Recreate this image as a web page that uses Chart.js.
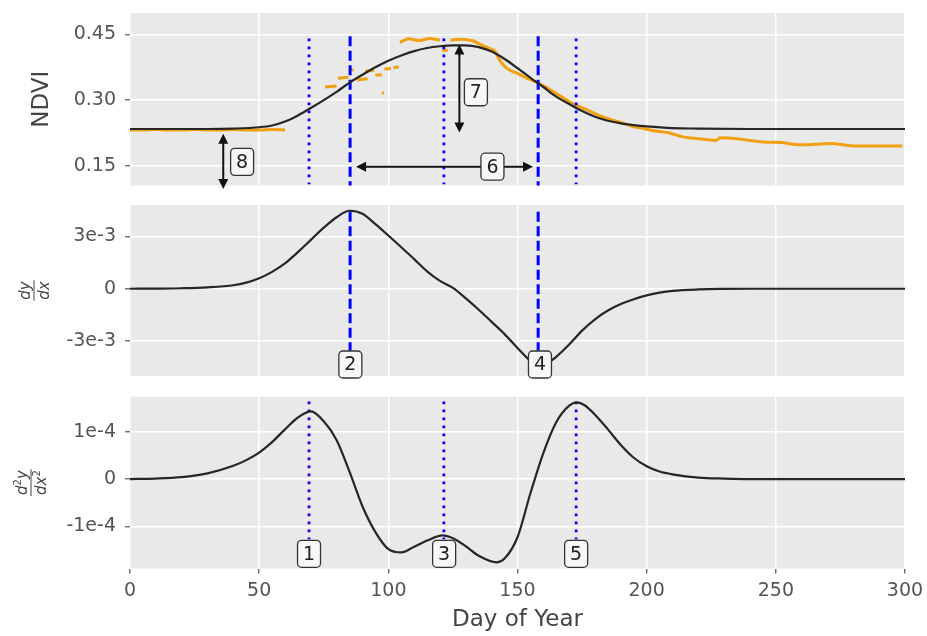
<!DOCTYPE html>
<html>
<head>
<meta charset="utf-8">
<script src="https://cdn.jsdelivr.net/npm/chart.js@4.4.1/dist/chart.umd.min.js"></script>
<style>
  html, body { margin: 0; padding: 0; background: #fff; }
  #wrap { position: relative; width: 927px; height: 636px; }
  canvas { position: absolute; left: 0; }
</style>
</head>
<body>
<div id="wrap">
  <canvas id="c1" width="927" height="196" style="top:0px"></canvas>
  <canvas id="c2" width="927" height="190" style="top:196px"></canvas>
  <canvas id="c3" width="927" height="250" style="top:386px"></canvas>
</div>
<script>
// ---- data ----
const xTicks = [0, 50, 100, 150, 200, 250, 300];

const ndviTicks = [0.15, 0.30, 0.45];
const ndviTickLabels = ['0.15', '0.30', '0.45'];
const slopeTicks = [-3e-3, 0, 3e-3];
const slopeTickLabels = ['-3e-3', '0', '3e-3'];
const curvTicks = [-1e-4, 0, 1e-4];
const curvTickLabels = ['-1e-4', '0', '1e-4'];

// fitted NDVI curve
const fitDays = [0, 10, 20, 30, 40, 50, 55, 60, 65, 70, 75, 80, 85, 90, 95, 100, 105, 110, 115, 120,
  125, 130, 135, 140, 145, 150, 155, 160, 165, 170, 175, 180, 185, 190, 195, 200, 210, 220, 240, 260, 280, 300];
const ndviFit = [0.234, 0.234, 0.234, 0.234, 0.235, 0.238, 0.242, 0.251, 0.265, 0.282, 0.300, 0.319, 0.340, 0.358, 0.375, 0.390, 0.402, 0.412, 0.419, 0.423,
  0.425, 0.425, 0.421, 0.411, 0.394, 0.373, 0.351, 0.330, 0.308, 0.291, 0.275, 0.262, 0.253, 0.247, 0.243, 0.240, 0.236, 0.235, 0.234, 0.234, 0.234, 0.234];

// raw NDVI observations (null = gap)
const rawDays = [0, 5, 10, 15, 20, 25, 30, 35, 40, 45, 50, 55, 60, 61,
  75.5, 80, 80.2, 80.5, 84.5, 84.7, 85, 86.5, 86.7, 88, 92, 92.1, 91, 94.5, 94.6,
  95, 97.5, 97.6, 97.5, 98.3, 98.4, 98.5, 101, 101.2, 102, 104, 104.2,
  104.5, 108, 112, 116, 120, 120.3, 120.8, 123, 123.3,
  124, 128, 133, 136, 139.5, 141.5, 143, 146, 150, 153, 157, 161, 165, 168, 171, 175, 179, 182, 186, 190,
  194, 198, 204, 208, 214, 220, 227, 228.4, 235, 240, 246, 252, 259, 265, 272, 276, 280, 290, 299];
const ndviRaw = [0.232, 0.232, 0.233, 0.232, 0.232, 0.233, 0.232, 0.232, 0.233, 0.232, 0.232, 0.233, 0.232, null,
  0.330, 0.332, null, 0.350, 0.352, null, 0.372, 0.368, null, 0.346, 0.349, null, 0.366, 0.368, null,
  0.357, 0.358, null, 0.316, 0.316, null, 0.371, 0.372, null, 0.374, 0.376, null,
  0.432, 0.440, 0.436, 0.441, 0.437, null, 0.414, 0.414, null,
  0.437, 0.439, 0.435, 0.426, 0.417, 0.410, 0.392, 0.372, 0.361, 0.352, 0.342, 0.330, 0.315, 0.304, 0.293, 0.283, 0.272, 0.264, 0.256, 0.249,
  0.241, 0.236, 0.229, 0.226, 0.216, 0.212, 0.208, 0.214, 0.212, 0.208, 0.204, 0.203, 0.198, 0.199, 0.201, 0.198, 0.195, 0.195, 0.195];

// first derivative
const slopeDays = [0, 10, 20, 30, 40, 45, 50, 55, 60, 65, 70, 75, 80, 85, 90, 95, 100,
  105, 110, 115, 120, 125, 130, 135, 140, 145, 150, 155,
  158, 160, 165, 170, 175, 180, 185, 190, 195, 200,
  205, 210, 220, 230, 240, 260, 280, 300];
const slope = [0, 0.00001, 0.00003, 0.00008, 0.0002, 0.00035, 0.0006, 0.00097, 0.00145, 0.0021, 0.0028, 0.0035, 0.0041, 0.00447, 0.0043, 0.0037, 0.00305,
  0.00238, 0.0017, 0.001, 0.00045, 0.00005, -0.00055, -0.0012, -0.0019, -0.0026, -0.0034, -0.00415,
  -0.00448, -0.0044, -0.0039, -0.0032, -0.0024, -0.00175, -0.00125, -0.00088, -0.0006, -0.00038,
  -0.00022, -0.00012, -0.00004, -0.00001, 0, 0, 0, 0];

// second derivative
const curvDays = [0, 10, 20, 30, 40, 45, 50, 55, 60, 65, 70, 75, 80, 85, 90,
  95, 100, 105, 110, 115, 121, 125, 130, 135, 142,
  145, 150, 155, 160, 165, 170, 173, 176, 180, 185,
  190, 195, 200, 205, 210, 220, 230, 240, 260, 280, 300];
const curv = [0, 0.01e-4, 0.04e-4, 0.12e-4, 0.28e-4, 0.4e-4, 0.56e-4, 0.78e-4, 1.05e-4, 1.3e-4, 1.43e-4, 1.22e-4, 0.82e-4, 0.15e-4, -0.58e-4,
  -1.12e-4, -1.48e-4, -1.55e-4, -1.43e-4, -1.3e-4, -1.19e-4, -1.25e-4, -1.42e-4, -1.62e-4, -1.76e-4,
  -1.68e-4, -1.23e-4, -0.3e-4, 0.55e-4, 1.2e-4, 1.55e-4, 1.62e-4, 1.56e-4, 1.36e-4, 1.05e-4,
  0.72e-4, 0.45e-4, 0.27e-4, 0.16e-4, 0.1e-4, 0.03e-4, 0.01e-4, 0, 0, 0, 0];

// phenology markers (day of year)
const dottedDays = [69.3, 121.5, 172.7];
const dashedDays = [85.2, 158];

// annotation labels: [text, day, value]
const ndviLabels = [['8', 43.4, 0.159], ['7', 133.9, 0.318], ['6', 140.3, 0.148]];
const slopeLabels = [['2', 85.3, -4.34e-3], ['4', 158.7, -4.34e-3]];
const curvLabels = [['1', 69.3, -1.58e-4], ['3', 121.6, -1.58e-4], ['5', 172.7, -1.58e-4]];

// arrows: [x1, y1, x2, y2] in data units
const ndviArrows = [
  [36.1, 0.223, 36.1, 0.097],
  [127.5, 0.427, 127.5, 0.226],
  [87.5, 0.148, 156, 0.148]
];

const FONT = "'DejaVu Sans', sans-serif";
const BLUE = '#0000ff';

function pts(xs, ys) {
  return xs.map((x, i) => ({ x: x, y: ys[i] }));
}

function vline(day, top, bottom, dotted) {
  return {
    data: [{ x: day, y: top }, { x: day, y: bottom }],
    borderColor: BLUE,
    borderWidth: dotted ? 2.8 : 3,
    borderDash: dotted ? [2.8, 5.2] : [10, 4.5],
    pointRadius: 0,
    order: 2
  };
}

function curveSet(xs, ys, color, width, order) {
  return {
    data: pts(xs, ys),
    borderColor: color,
    borderWidth: width,
    pointRadius: 0,
    cubicInterpolationMode: 'monotone',
    spanGaps: false,
    order: order
  };
}

function drawBox(ctx, x, y, text) {
  const w = 23, h = 27;
  ctx.save();
  ctx.beginPath();
  ctx.roundRect(x - w / 2, y - h / 2, w, h, 4);
  ctx.fillStyle = '#f7f7f7';
  ctx.fill();
  ctx.lineWidth = 1.3;
  ctx.strokeStyle = '#333';
  ctx.stroke();
  ctx.fillStyle = '#222';
  ctx.font = '19px ' + FONT;
  ctx.textAlign = 'center';
  ctx.textBaseline = 'middle';
  ctx.fillText(text, x, y + 1);
  ctx.restore();
}

function drawArrow(ctx, x1, y1, x2, y2) {
  const hl = 10, hw = 5;
  const ang = Math.atan2(y2 - y1, x2 - x1);
  const ux = Math.cos(ang), uy = Math.sin(ang);
  ctx.save();
  ctx.strokeStyle = '#111';
  ctx.fillStyle = '#111';
  ctx.lineWidth = 2;
  ctx.beginPath();
  ctx.moveTo(x1 + ux * hl * 0.8, y1 + uy * hl * 0.8);
  ctx.lineTo(x2 - ux * hl * 0.8, y2 - uy * hl * 0.8);
  ctx.stroke();
  [[x2, y2, 1], [x1, y1, -1]].forEach(([tx, ty, s]) => {
    ctx.beginPath();
    ctx.moveTo(tx, ty);
    ctx.lineTo(tx - s * ux * hl - uy * hw, ty - s * uy * hl + ux * hw);
    ctx.lineTo(tx - s * ux * hl + uy * hw, ty - s * uy * hl - ux * hw);
    ctx.closePath();
    ctx.fill();
  });
  ctx.restore();
}

// y-axis label: plain text or fraction
function drawYLabel(ctx, area, kind) {
  const cy = (area.top + area.bottom) / 2;
  ctx.save();
  ctx.fillStyle = '#444';
  ctx.strokeStyle = '#444';
  if (kind === 'ndvi') {
    ctx.translate(42, cy);
    ctx.rotate(-Math.PI / 2);
    ctx.font = '23px ' + FONT;
    ctx.textAlign = 'center';
    ctx.textBaseline = 'middle';
    ctx.fillText('NDVI', 0, 0);
  } else {
    const cx = kind === 'slope' ? 35 : 32;
    ctx.translate(cx, cy);
    ctx.rotate(-Math.PI / 2);
    const big = 'italic 15px ' + FONT;
    const small = '10px ' + FONT;
    const sup = kind === 'curv';
    ctx.font = big;
    const wd = ctx.measureText('d').width;
    const wy = ctx.measureText('y').width;
    const wx = ctx.measureText('x').width;
    ctx.font = small;
    const w2 = sup ? ctx.measureText('2').width : 0;
    const numW = wd + w2 + wy;
    const denW = wd + wx + w2;
    const barW = Math.max(numW, denW) + 2;
    ctx.textAlign = 'left';
    ctx.textBaseline = 'alphabetic';
    let x0 = -numW / 2;
    ctx.font = big; ctx.fillText('d', x0, -5);
    if (sup) { ctx.font = small; ctx.fillText('2', x0 + wd, -11); }
    ctx.font = big; ctx.fillText('y', x0 + wd + w2, -5);
    x0 = -denW / 2;
    ctx.fillText('d', x0, 14);
    ctx.fillText('x', x0 + wd, 14);
    if (sup) { ctx.font = small; ctx.fillText('2', x0 + wd + wx, 8); }
    ctx.lineWidth = 1;
    ctx.beginPath();
    ctx.moveTo(-barW / 2, -1);
    ctx.lineTo(barW / 2, -1);
    ctx.stroke();
  }
  ctx.restore();
}

const panelPlugin = {
  id: 'panel',
  beforeDraw(chart) {
    const a = chart.chartArea;
    const ctx = chart.ctx;
    ctx.save();
    ctx.fillStyle = '#e9e9e9';
    ctx.fillRect(a.left, a.top, a.right - a.left, a.bottom - a.top);
    ctx.restore();
  },
  afterDraw(chart) {
    const o = chart.options.plugins.panel;
    const ctx = chart.ctx;
    const xs = chart.scales.x, ys = chart.scales.y;
    (o.arrows || []).forEach(a => {
      drawArrow(ctx, xs.getPixelForValue(a[0]), ys.getPixelForValue(a[1]),
        xs.getPixelForValue(a[2]), ys.getPixelForValue(a[3]));
    });
    (o.labels || []).forEach(l => {
      drawBox(ctx, xs.getPixelForValue(l[1]), ys.getPixelForValue(l[2]), l[0]);
    });
    drawYLabel(ctx, chart.chartArea, o.kind);
  }
};

function noPad(s) {
  s.paddingTop = 0;
  s.paddingBottom = 0;
  s.paddingLeft = 0;
  s.paddingRight = 0;
}

function makePanel(id, cfg) {
  const bottom = cfg.bottom;
  return new Chart(document.getElementById(id), {
    type: 'line',
    data: { datasets: cfg.datasets },
    plugins: [panelPlugin],
    options: {
      responsive: false,
      animation: false,
      clip: false,
      layout: { padding: cfg.padding },
      plugins: {
        legend: { display: false },
        tooltip: { enabled: false },
        panel: { kind: cfg.kind, labels: cfg.labels, arrows: cfg.arrows }
      },
      scales: {
        x: {
          type: 'linear',
          min: 0,
          max: 300,
          afterBuildTicks: s => { s.ticks = xTicks.map(v => ({ value: v })); },
          afterFit: s => { s.height = bottom ? 67.5 : 0; noPad(s); },
          border: { display: false },
          grid: { color: '#ffffff', lineWidth: 1.5, drawTicks: bottom, tickLength: 5, tickColor: '#555', tickWidth: 1.2 },
          ticks: { display: bottom, padding: 6, color: '#555', font: { family: FONT, size: 19 } },
          title: { display: bottom, text: 'Day of Year', color: '#444', font: { family: FONT, size: 23 }, padding: { top: 0, bottom: 2 } }
        },
        y: {
          type: 'linear',
          min: cfg.ymin,
          max: cfg.ymax,
          afterBuildTicks: s => { s.ticks = cfg.ticks.map(v => ({ value: v })); },
          afterFit: s => { s.width = 130; noPad(s); },
          border: { display: false },
          grid: { color: '#ffffff', lineWidth: 1.5, tickLength: 5, tickColor: '#555', tickWidth: 1.2 },
          ticks: {
            padding: 9,
            color: '#555',
            font: { family: FONT, size: 19 },
            callback: v => {
              const i = cfg.ticks.findIndex(t => Math.abs(t - v) < 1e-12);
              return i >= 0 ? cfg.tickLabels[i] : '';
            }
          }
        }
      }
    }
  });
}

makePanel('c1', {
  kind: 'ndvi',
  bottom: false,
  padding: { top: 13, bottom: 10.5, left: 0, right: 22 },
  ymin: 0.105, ymax: 0.499,
  ticks: ndviTicks, tickLabels: ndviTickLabels,
  labels: ndviLabels, arrows: ndviArrows,
  datasets: [
    curveSet(rawDays, ndviRaw, '#f0a010', 3, 3),
    curveSet(fitDays, ndviFit, '#262626', 2.2, 1),
    ...dottedDays.map(d => vline(d, 0.441, 0.108, true)),
    ...dashedDays.map(d => vline(d, 0.446, 0.105, false))
  ]
});

makePanel('c2', {
  kind: 'slope',
  bottom: false,
  padding: { top: 9, bottom: 10, left: 0, right: 22 },
  ymin: -5.0e-3, ymax: 4.8e-3,
  ticks: slopeTicks, tickLabels: slopeTickLabels,
  labels: slopeLabels, arrows: [],
  datasets: [
    curveSet(slopeDays, slope, '#262626', 2.2, 1),
    ...dashedDays.map(d => vline(d, 4.42e-3, -3.55e-3, false))
  ]
});

makePanel('c3', {
  kind: 'curv',
  bottom: true,
  padding: { top: 10.7, bottom: 0, left: 0, right: 22 },
  ymin: -1.89e-4, ymax: 1.74e-4,
  ticks: curvTicks, tickLabels: curvTickLabels,
  labels: curvLabels, arrows: [],
  datasets: [
    curveSet(curvDays, curv, '#262626', 2.2, 1),
    ...dottedDays.map(d => vline(d, 1.64e-4, -1.27e-4, true))
  ]
});
</script>
</body>
</html>
